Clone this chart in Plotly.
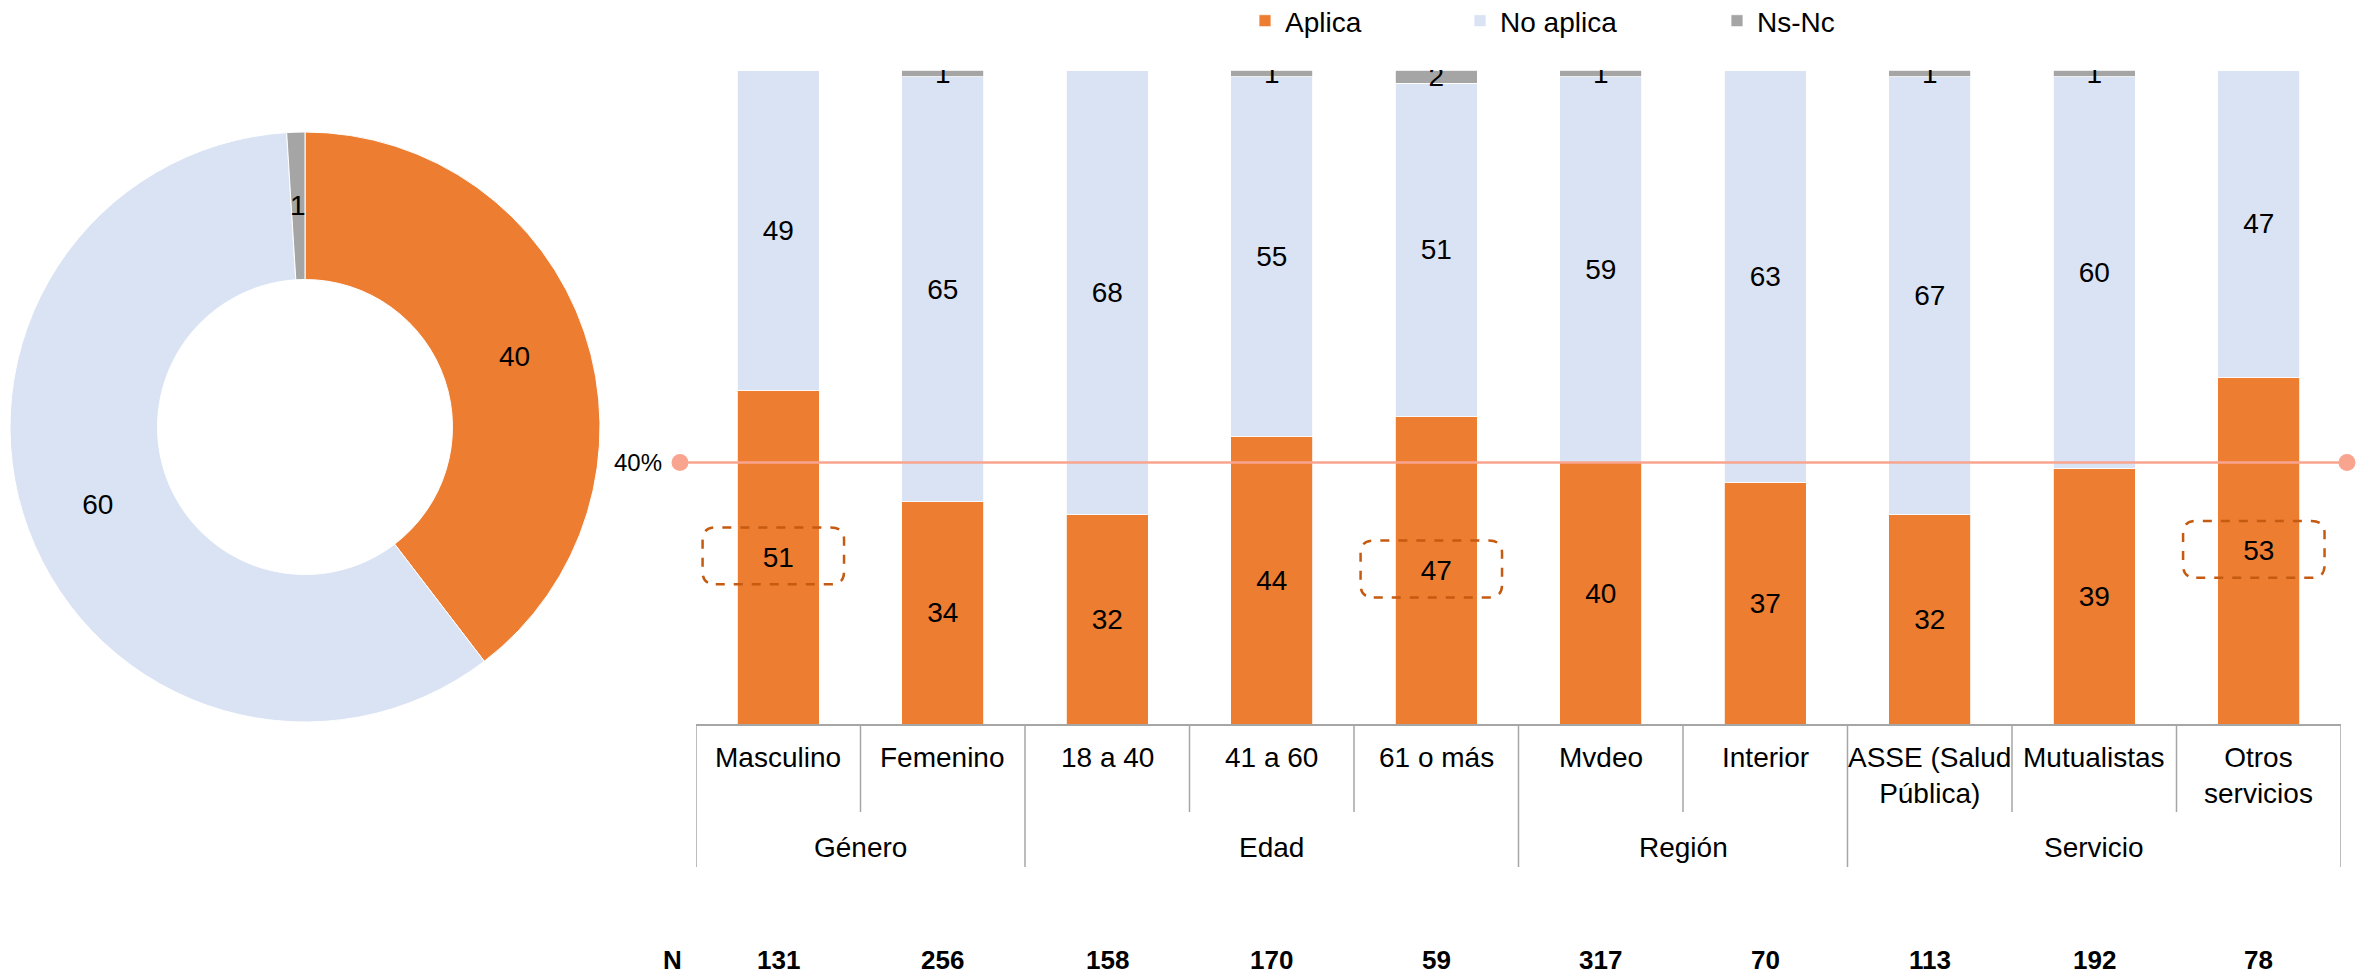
import math
import plotly.graph_objects as go

W, H = 2366, 977

# ---------------- data ----------------
categories = ["Masculino", "Femenino", "18 a 40", "41 a 60", "61 o más",
              "Mvdeo", "Interior", "ASSE (Salud<br>Pública)", "Mutualistas",
              "Otros<br>servicios"]
groups = ["Género", "Edad", "Región", "Servicio"]
group_sizes = [2, 3, 2, 3]
aplica = [51, 34, 32, 44, 47, 40, 37, 32, 39, 53]
no_aplica = [49, 65, 68, 55, 51, 59, 63, 67, 60, 47]
ns_nc = [0, 1, 0, 1, 2, 1, 0, 1, 1, 0]
n_values = [131, 256, 158, 170, 59, 317, 70, 113, 192, 78]
highlighted = [0, 4, 9]
series_names = ["Aplica", "No aplica", "Ns-Nc"]
pie_values = [40, 60, 1]
reference_value = 40

ORANGE = "#ED7D31"
LIGHT = "#DAE3F3"
GREY = "#A5A5A5"
LINE_COL = "#A6A6A6"
REF_COL = "#F9A48F"
BOX_COL = "#C55A11"
FONT = "Liberation Sans, Arial, sans-serif"


def X(px):
    return px / W


def Y(py):
    return (H - py) / H


xs = list(range(len(categories)))

fig = go.Figure()

# pie (donut) geometry (pixels) for the domain
PIE_CX, PIE_CY, PIE_R, HOLE = 305, 427, 295, 0.5
pie_total = sum(pie_values)
pie_text = [str(v) if v / pie_total > 0.05 else "" for v in pie_values]

fig.add_trace(go.Pie(
    labels=series_names, values=pie_values, sort=False, direction="clockwise",
    rotation=0, hole=HOLE, marker=dict(colors=[ORANGE, LIGHT, GREY], line=dict(color="white", width=1)),
    text=pie_text, textinfo="text", textposition="inside",
    insidetextorientation="horizontal", textfont=dict(size=28, color="black", family=FONT),
    domain=dict(x=[X(PIE_CX - PIE_R), X(PIE_CX + PIE_R)], y=[Y(PIE_CY + PIE_R), Y(PIE_CY - PIE_R)]),
    showlegend=False, hoverinfo="label+value",
))

# stacked bars, each series with its own legend box
legend_ids = ["legend", "legend2", "legend3"]
legend_x = [1245, 1460, 1717]
for name, vals, col, lg in zip(series_names, [aplica, no_aplica, ns_nc], [ORANGE, LIGHT, GREY], legend_ids):
    fig.add_trace(go.Bar(
        x=xs, y=vals, name=name, marker=dict(color=col, line=dict(color="white", width=0.8)),
        text=[str(v) if v else "" for v in vals], textposition="inside", insidetextanchor="middle",
        textangle=0, textfont=dict(size=28, color="black", family=FONT),
        xaxis="x", yaxis="y", legend=lg,
    ))

# reference line (own x axis spanning slightly wider than the bar axis)
fig.add_trace(go.Scatter(
    x=[0, 1], y=[reference_value, reference_value], mode="lines+markers",
    line=dict(color=REF_COL, width=2.5), marker=dict(color=REF_COL, size=17),
    xaxis="x2", yaxis="y", showlegend=False, cliponaxis=False, hoverinfo="skip",
))

shapes = []
annotations = []

# small pie slice labels placed at the middle of the ring
cum = 0
for v in pie_values:
    if v / pie_total <= 0.05:
        ang = math.radians((cum + v / 2) / pie_total * 360)
        rr = PIE_R * (1 + HOLE) / 2
        px = PIE_CX + rr * math.sin(ang)
        py = PIE_CY - rr * math.cos(ang)
        annotations.append(dict(x=X(px), y=Y(py), xref="paper", yref="paper", text=str(v), showarrow=False,
                                xanchor="center", yanchor="middle",
                                font=dict(size=28, color="black", family=FONT)))
    cum += v

# dashed rounded highlight boxes
hw, hh, rx, ry = 0.43, 4.35, 0.08, 1.9
for i in highlighted:
    cx = i - 0.03
    cy = aplica[i] / 2 + 0.2
    x0, x1 = cx - hw, cx + hw
    y0, y1 = cy - hh, cy + hh
    path = (f"M {x0+rx},{y0} L {x1-rx},{y0} Q {x1},{y0} {x1},{y0+ry} "
            f"L {x1},{y1-ry} Q {x1},{y1} {x1-rx},{y1} L {x0+rx},{y1} "
            f"Q {x0},{y1} {x0},{y1-ry} L {x0},{y0+ry} Q {x0},{y0} {x0+rx},{y0} Z")
    shapes.append(dict(type="path", path=path, xref="x", yref="y",
                       line=dict(color=BOX_COL, width=2.5, dash="dash")))

# separators
group_bounds = [-0.5]
for s in group_sizes:
    group_bounds.append(group_bounds[-1] + s)
for b in group_bounds:
    shapes.append(dict(type="line", xref="x", yref="paper", x0=b, x1=b, y0=Y(724), y1=Y(867),
                       line=dict(color=LINE_COL, width=1.5)))
for k in range(len(categories) - 1):
    b = k + 0.5
    if b not in group_bounds:
        shapes.append(dict(type="line", xref="x", yref="paper", x0=b, x1=b, y0=Y(724), y1=Y(812),
                           line=dict(color=LINE_COL, width=1.5)))

# category labels
for i, c in enumerate(categories):
    annotations.append(dict(x=i, y=Y(740), xref="x", yref="paper", text=c, showarrow=False,
                            xanchor="center", yanchor="top", font=dict(size=28, color="black", family=FONT)))
# group labels
for g, a, b in zip(groups, group_bounds[:-1], group_bounds[1:]):
    annotations.append(dict(x=(a + b) / 2, y=Y(847), xref="x", yref="paper", text=g, showarrow=False,
                            xanchor="center", yanchor="middle", font=dict(size=28, color="black", family=FONT)))
# N row
annotations.append(dict(x=X(672), y=Y(960), xref="paper", yref="paper", text="<b>N</b>", showarrow=False,
                        xanchor="center", yanchor="middle", font=dict(size=26, color="black", family=FONT)))
for i, n in enumerate(n_values):
    annotations.append(dict(x=i, y=Y(960), xref="x", yref="paper", text=f"<b>{n}</b>", showarrow=False,
                            xanchor="center", yanchor="middle", font=dict(size=26, color="black", family=FONT)))
# reference label
annotations.append(dict(x=X(664), y=reference_value, xref="paper", yref="y", text=f"{reference_value}%",
                        showarrow=False, xanchor="right", yanchor="middle",
                        font=dict(size=24, color="black", family=FONT)))

legend_common = dict(orientation="h", y=Y(21), xanchor="left", yanchor="middle",
                     font=dict(size=28, color="black", family=FONT), bgcolor="rgba(0,0,0,0)")

fig.update_layout(
    width=W, height=H, margin=dict(l=0, r=0, t=0, b=0, autoexpand=False),
    paper_bgcolor="white", plot_bgcolor="rgba(0,0,0,0)",
    barmode="stack", bargap=0.5,
    font=dict(family=FONT, size=28, color="black"),
    uniformtext=dict(minsize=28, mode="show"),
    xaxis=dict(domain=[X(696), X(2341)], range=[-0.5, len(categories) - 0.5], showticklabels=False,
               showgrid=False, zeroline=False, showline=True, linecolor=LINE_COL, linewidth=1.5,
               ticks="", fixedrange=True),
    xaxis2=dict(domain=[X(680), X(2347)], range=[0, 1], anchor="y", visible=False, fixedrange=True),
    yaxis=dict(domain=[Y(724), Y(70)], range=[0, 100], visible=False, fixedrange=True),
    legend=dict(x=X(legend_x[0]), **legend_common),
    legend2=dict(x=X(legend_x[1]), **legend_common),
    legend3=dict(x=X(legend_x[2]), **legend_common),
    shapes=shapes, annotations=annotations,
)

fig.write_html("out.html", config={"displayModeBar": False},
               post_script="document.body.style.margin='0';")
